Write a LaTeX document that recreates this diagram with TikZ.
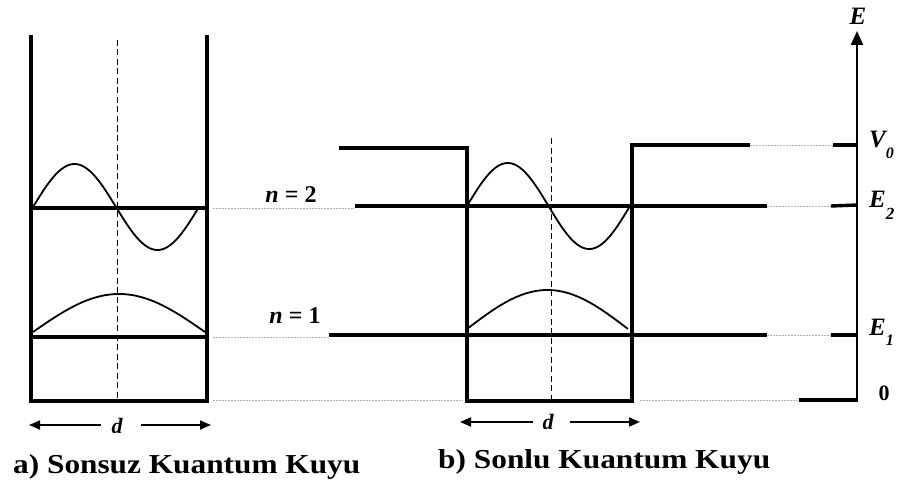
\documentclass[tikz,border=0pt]{standalone}
\usepackage{fontspec}
\setmainfont{Liberation Serif}
\usetikzlibrary{arrows.meta}
\begin{document}
\begin{tikzpicture}[x=1pt,y=-1pt,
  wall/.style={line width=3.6pt, line join=miter},
  lvl/.style={line width=3.6pt},
  wave/.style={line width=1.8pt, smooth, samples=90, domain=0:1},
  guide/.style={gray!60, dash pattern=on 2pt off 1pt, line width=1pt},
  midline/.style={dash pattern=on 6pt off 3.5pt, line width=1pt},
  darrow/.style={line width=1.8pt, -{Triangle[length=11pt,width=9pt]}},
  lbl/.style={font=\fontsize{24}{28}\selectfont\bfseries, inner sep=0pt},
  dl/.style={font=\fontsize{22}{26}\selectfont\bfseries\itshape, inner sep=0pt, anchor=base},
  axl/.style={font=\fontsize{25}{28}\selectfont\bfseries\itshape, inner sep=0pt, anchor=base west},
  sub/.style={}]
\useasboundingbox (0,0) rectangle (904,484);

% ---------- a) infinite well ----------
\coordinate (aTL) at (31,35);
\coordinate (aBL) at (31,401);
\coordinate (aBR) at (207,401);
\coordinate (aTR) at (207,35);
\draw[wall] (aTL) -- (aBL) -- (aBR) -- (aTR);
\coordinate (a2L) at (31,208);  \coordinate (a2R) at (207,208);
\coordinate (a1L) at (31,337);  \coordinate (a1R) at (207,337);
\draw[lvl] (a2L) -- (a2R);
\draw[lvl] (a1L) -- (a1R);
\coordinate (amT) at (117,40); \coordinate (amB) at (117,399);
\draw[midline] (amT) -- (amB);
\draw[wave] plot ({33+166*\x},{207-43*sin(360*\x)});
\draw[wave] plot ({33+172*\x},{332-38*sin(180*\x)});

% guides from a) to b)
\coordinate (g2a) at (213,208); \coordinate (g2b) at (355,208);
\coordinate (g1a) at (213,337); \coordinate (g1b) at (329,337);
\coordinate (g0a) at (213,400); \coordinate (g0b) at (463,400);
\draw[guide] (g2a) -- (g2b);
\draw[guide] (g1a) -- (g1b);
\draw[guide] (g0a) -- (g0b);

\node[lbl, anchor=base] (n2) at (291,202) {\textit{n} = 2};
\node[lbl, anchor=base] (n1) at (295,323) {\textit{n} = 1};

% d arrow a)
\node[dl] (da) at (117,433) {d};
\coordinate (daLs) at (101,425); \coordinate (daLt) at (29,425);
\coordinate (daRs) at (141,425); \coordinate (daRt) at (211,425);
\draw[darrow] (daLs) -- (daLt);
\draw[darrow] (daRs) -- (daRt);

\node[inner sep=0pt, anchor=base west] (capa) at (13,473)
  {\resizebox{347pt}{19pt}{\bfseries a) Sonsuz Kuantum Kuyu}};

% ---------- b) finite well ----------
\coordinate (bTLo) at (339,148);
\coordinate (bTL) at (467,148);
\coordinate (bBL) at (467,401);
\coordinate (bBR) at (632,401);
\coordinate (bTR) at (632,145);
\coordinate (bTRo) at (750,145);
\draw[wall] (bTLo) -- (bTL) -- (bBL) -- (bBR) -- (bTR) -- (bTRo);
\coordinate (b2L) at (355,206); \coordinate (b2R) at (767,206);
\coordinate (b1L) at (329,335); \coordinate (b1R) at (767,335);
\draw[lvl] (b2L) -- (b2R);
\draw[lvl] (b1L) -- (b1R);
\coordinate (bmT) at (551,138); \coordinate (bmB) at (551,399);
\draw[midline] (bmT) -- (bmB);
\draw[wave] plot ({467+163*\x},{206-43*sin(360*\x)});
\draw[wave] plot ({467+161*\x},{329-39*sin(180*\x)});

% d arrow b)
\node[dl] (db) at (548,429) {d};
\coordinate (dbLs) at (533,422); \coordinate (dbLt) at (460,422);
\coordinate (dbRs) at (570,422); \coordinate (dbRt) at (640,422);
\draw[darrow] (dbLs) -- (dbLt);
\draw[darrow] (dbRs) -- (dbRt);

\node[inner sep=0pt, anchor=base west] (capb) at (438,468)
  {\resizebox{332pt}{19pt}{\bfseries b) Sonlu Kuantum Kuyu}};

% ---------- energy axis ----------
\coordinate (ax0) at (857,400);
\coordinate (axT) at (857,31);
\draw[line width=2.4pt, -{Triangle[length=14pt,width=12pt]}] (ax0) -- (axT);

\coordinate (gVa) at (750,145); \coordinate (gVb) at (833,145);
\coordinate (gEa) at (767,206); \coordinate (gEb) at (831,206);
\coordinate (gFa) at (767,335); \coordinate (gFb) at (831,335);
\coordinate (gZa) at (640,400); \coordinate (gZb) at (799,400);
\draw[guide] (gVa) -- (gVb);
\draw[guide] (gEa) -- (gEb);
\draw[guide] (gFa) -- (gFb);
\draw[guide] (gZa) -- (gZb);
\coordinate (tV) at (857,145);
\coordinate (tE2) at (857,205);
\coordinate (tE1) at (857,335);
\draw[line width=3.4pt] (gVb) -- (tV);
\draw[line width=3.4pt] (gEb) -- (tE2);
\draw[line width=3.4pt] (gFb) -- (tE1);
\draw[line width=3.4pt] (gZb) -- ([xshift=1.2pt]ax0);

\node[axl, anchor=base] (E) at (858,25) {E};
\node[axl] (V0) at (869,147) {V\raisebox{-11pt}{\fontsize{16}{18}\selectfont 0}};
\node[axl] (E2) at (869,207) {E\raisebox{-12pt}{\fontsize{17}{18}\selectfont 2}};
\node[axl] (E1) at (869,335) {E\raisebox{-10pt}{\fontsize{16}{18}\selectfont 1}};
\node[lbl, font=\fontsize{22}{26}\selectfont\bfseries, anchor=base] (zero) at (884,400) {0};
\end{tikzpicture}
\end{document}
